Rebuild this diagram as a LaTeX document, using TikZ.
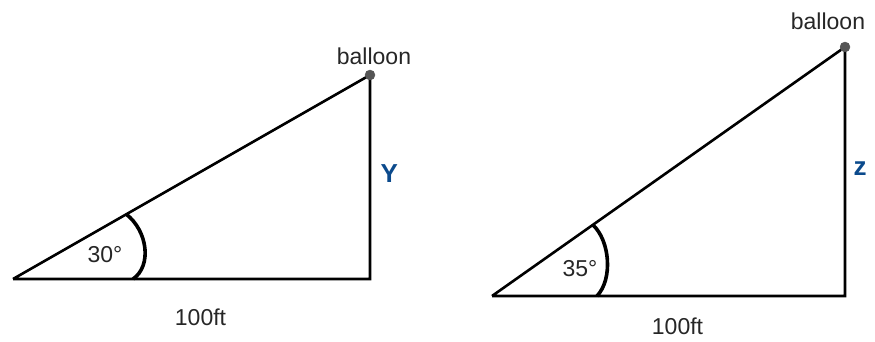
\documentclass[tikz,border=0pt]{standalone}
\usepackage{fontspec}
\setmainfont{Liberation Sans}
\usetikzlibrary{positioning}
\definecolor{penblue}{HTML}{0B4A8C}
\definecolor{dotgray}{HTML}{555555}
\tikzset{
  side/.style={line width=2.6pt},
  anglemark/.style={line width=3.6pt},
  lbl/.style={font=\fontsize{23}{27}\selectfont, text=black!85, inner sep=1pt},
  hand/.style={font=\fontsize{26}{30}\selectfont\bfseries, text=penblue}
}
\begin{document}
\begin{tikzpicture}[x=1pt, y=1pt]
  \useasboundingbox (0,0) rectangle (875,341);
  % left triangle
  \coordinate (A) at (13, 62);
  \coordinate (B) at (370, 62);
  \coordinate (C) at (370, 266);
  \draw[side] (A) -- node[lbl, below=28pt, xshift=9pt]{100ft} (B) -- node[hand, right=6pt, yshift=3pt]{Y} (C) -- (A);
  \draw[anglemark] (133, 62) .. controls (152, 75) and (148, 110) .. (126, 127);
  \node[lbl] (a30) at (105, 86) {30°};
  \filldraw[dotgray] (C) circle(5pt) node[lbl, above=9pt, xshift=4pt] {balloon};
  % right triangle
  \coordinate (D) at (492, 45);
  \coordinate (E) at (845, 45);
  \coordinate (F) at (845, 294);
  \draw[side] (D) -- node[lbl, below=20pt, xshift=9pt]{100ft} (E) -- node[hand, right=4pt, yshift=3pt]{z} (F) -- (D);
  \draw[anglemark] (597, 45) .. controls (613, 62) and (610, 100) .. (593, 116);
  \node[lbl] (a35) at (580, 72) {35°};
  \filldraw[dotgray] (F) circle(5pt) node[lbl, above=16pt, xshift=-17pt] {balloon};
\end{tikzpicture}
\end{document}
